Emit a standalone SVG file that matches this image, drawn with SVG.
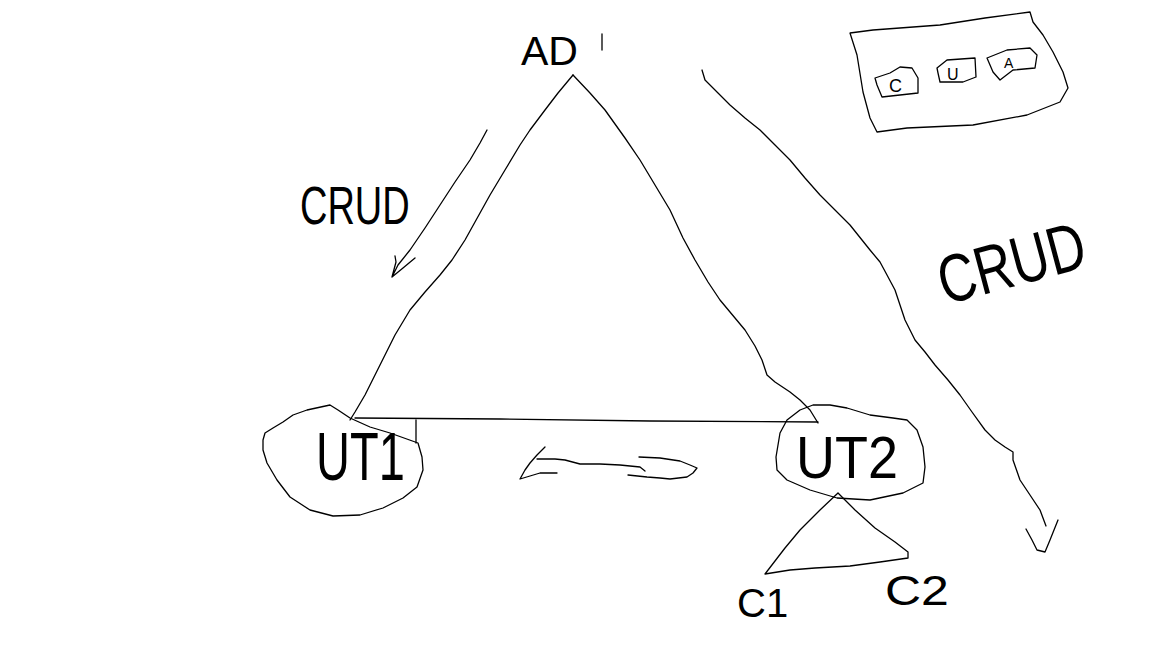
<svg xmlns="http://www.w3.org/2000/svg" width="1152" height="648" viewBox="0 0 1152 648">
<style>
.s{fill:none;stroke:#000;stroke-width:1.3;stroke-linejoin:round;stroke-linecap:round}
.t{font-family:"Liberation Sans",Arial,sans-serif;fill:#000}
</style>
<rect width="1152" height="648" fill="#fff"/>
<g id="connectors">
  <path class="s" d="M573,75 L558,93 L545,110 L530,130 L520,145 L505,170 L490,195 L475,222 L465,240 L452,260 L440,275 L425,292 L410,310 L395,335 L385,355 L375,375 L365,395 L355,412 L350,420"/>
  <path class="s" d="M573,75 L590,93 L605,110 L625,138 L640,160 L655,185 L670,210 L683,238 L695,260 L708,282 L720,300 L735,318 L745,330 L755,346 L762,360 L767,375 L775,382 L790,392 L800,400 L810,410 L818,423"/>
  <path class="s" d="M355,418 L500,419 L650,421 L818,422"/>
  <path class="s" d="M416,420 L416,443"/>
  <path class="s" d="M838,493 L820,510 L800,530 L785,548 L765,574 M838,493 L855,510 L875,528 L895,542 L908,552 L908,558 L880,562 L850,566 L815,568 L790,570 L765,574"/>
  <path class="s" d="M487,130 L480,143 L470,160 L455,182 L440,205 L425,228 L410,250 L398,265 L392,277 M392,277 L396,262 L395,256 M392,277 L403,268 L415,258"/>
  <path class="s" d="M702,70 L705,80 L718,93 L730,105 L745,118 L760,130 L775,145 L790,160 L805,178 L820,195 L835,210 L850,225 L862,240 L870,250 L880,262 L887,275 L895,290 L900,305 L905,320 L915,340 L925,352 L935,365 L948,380 L960,395 L972,412 L985,430 L995,440 L1005,447 L1013,452 L1013,460 L1020,480 L1030,495 L1040,510 L1046,526 M1026,529 L1032,540 L1037,550 L1045,552 L1050,540 L1058,520"/>
  <path class="s" d="M545,447 L537,455 L530,463 L525,470 L520,479 L530,476 L540,473 L557,473 M537,459 L555,459 L565,460 L580,464 L600,464 L620,465 L640,467 L645,471 M639,457 L660,458 L680,461 L690,465 L697,468 L693,473 L687,477 L670,479 L660,478 L647,477 L628,475"/>
</g>
<g id="AD">
  <text class="t" x="521" y="65" font-size="41">AD</text>
  <path class="s" d="M602,34 L602,50"/>
</g>
<g id="label-crud-left">
  <text class="t" font-size="38" transform="translate(300,224) scale(1,1.4)">CRUD</text>
</g>
<g id="label-crud-right">
  <text class="t" font-size="52" transform="translate(945,305) rotate(-15) scale(1,1.3)">CRUD</text>
</g>
<g id="UT1">
  <path class="s" d="M263,440 L265,433 L273,428 L283,422 L293,415 L307,410 L330,405 L338,410 L350,418 L370,427 L390,433 L418,443 L422,457 L423,470 L417,487 L403,498 L383,508 L360,515 L333,516 L310,510 L290,497 L277,480 L267,463 L263,450 Z"/>
  <text class="t" font-size="47" transform="translate(316,480) scale(1,1.45)">UT1</text>
</g>
<g id="UT2">
  <path class="s" d="M777,470 L776,457 L780,433 L787,420 L800,410 L813,405 L830,405 L847,408 L870,415 L893,418 L907,420 L917,430 L923,447 L925,467 L923,483 L903,493 L870,500 L837,498 L810,490 L787,480 Z"/>
  <text class="t" font-size="54" transform="translate(796,478) scale(1,1.1)">UT2</text>
</g>
<g id="C1">
  <text class="t" x="737" y="617" font-size="40">C1</text>
</g>
<g id="C2">
  <text class="t" font-size="50" transform="translate(885,605) scale(1,0.85)">C2</text>
</g>
<g id="legend">
  <path class="s" d="M850,33 L873,30 L940,25 L985,18 L1030,12 L1033,22 L1043,35 L1053,52 L1063,72 L1068,88 L1060,102 L1027,115 L973,125 L907,128 L877,132 L870,118 L863,92 L857,55 Z"/>
  <path class="s" d="M875,78 L890,73 L900,67 L912,68 L918,78 L918,93 L900,95 L882,97 L877,85 Z"/>
  <path class="s" d="M937,68 L947,60 L975,58 L976,77 L963,82 L940,82 L938,73 Z"/>
  <path class="s" d="M987,58 L1007,50 L1030,48 L1037,55 L1035,68 L1013,70 L1000,80 L993,72 Z"/>
  <text class="t" x="889" y="92" font-size="18">C</text>
  <text class="t" x="947" y="80" font-size="16">U</text>
  <text class="t" x="1004" y="68" font-size="14">A</text>
</g>
</svg>
